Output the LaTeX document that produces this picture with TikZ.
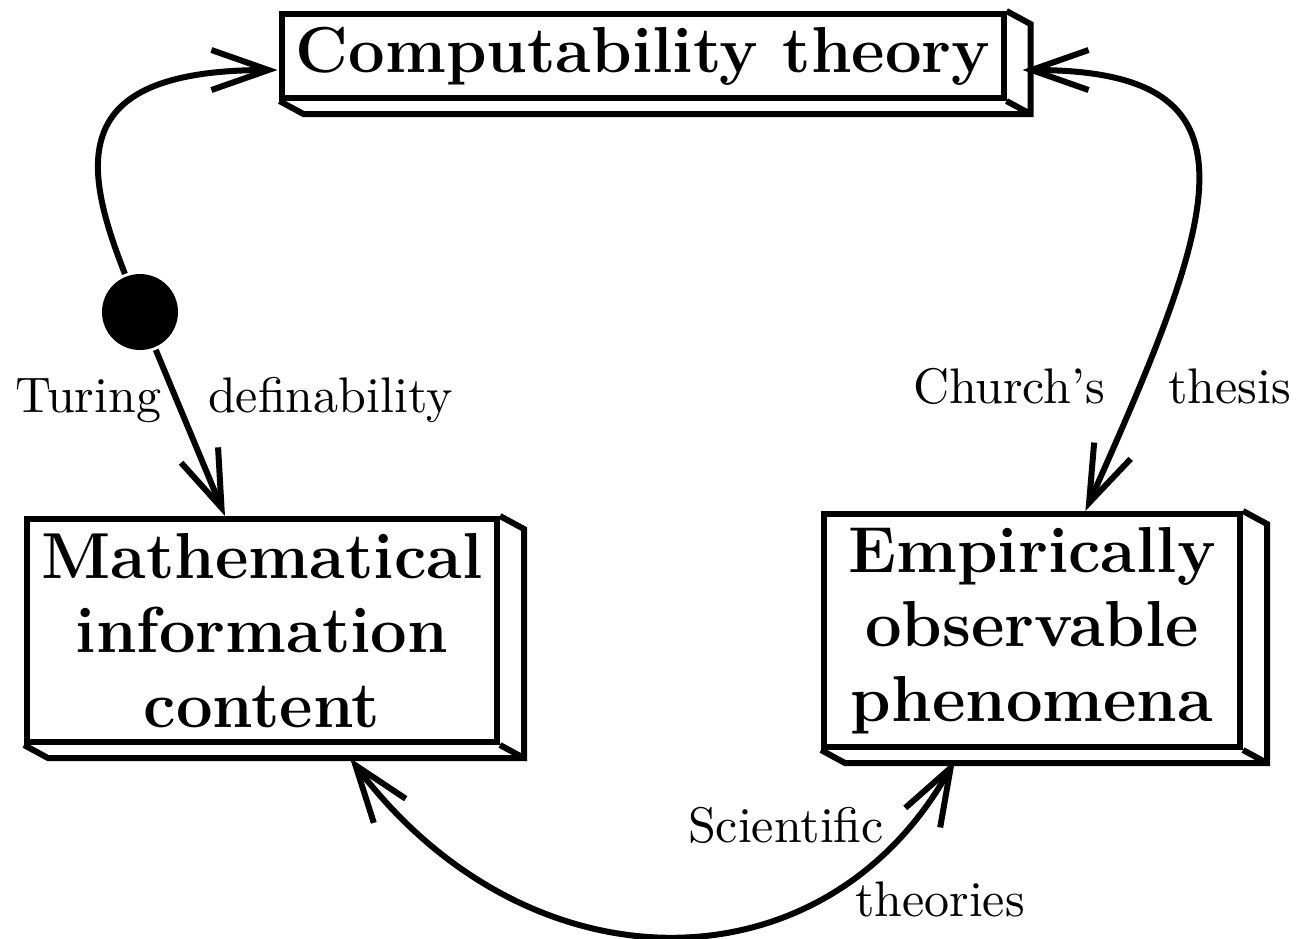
\documentclass[tikz,border=0pt]{standalone}
\usetikzlibrary{arrows.meta}

\begin{document}
\begin{tikzpicture}[x=0.2pt,y=0.2pt,line width=1.2pt,
    >={Straight Barb[length=11.4pt,width=8pt]},
    box/.style={draw,line width=1.2pt,inner sep=0pt,align=center,
      font=\fontsize{13}{14.9}\selectfont\bfseries},
    lbl/.style={inner sep=0pt,anchor=base west}]

  \useasboundingbox (0,0) rectangle (1305,-938);

  \node[box,minimum width=144.2pt,minimum height=16.8pt] (ct) at (643,-56) {Computability theory};
  \node[box,minimum width=94pt,minimum height=44.6pt] (mi) at (262,-630.5) {Mathematical\\information\\content};
  \node[box,minimum width=83.2pt,minimum height=46.6pt] (ep) at (1032,-630.5) {Empirically\\observable\\phenomena};
  \node[circle,fill,inner sep=0pt,minimum size=15.2pt] (dot) at (140,-312) {};

  % 3d edges of the boxes
  \foreach \b in {ct,mi,ep}
    \draw (\b.north east) -- ++(24,-13) |- ([shift={(24,-13)}]\b.south west) -- (\b.south west)
          (\b.south east) -- ++(24,-13);

  \draw[->] (dot) .. controls (80,-160) and (70,-70) .. ([shift={(-2,-14)}]ct.west);
  \draw[->] (dot) -- ([shift={(-37,0)}]mi.north);
  \draw[<->] (ep) .. controls (1220,-210) and (1270,-70) .. ([shift={(16,-14)}]ct.east);
  \draw[<->] ([shift={(88,-13)}]mi.south) .. controls (528,-994) and (824,-994) .. ([shift={(-77,-10)}]ep.south);

  \node[lbl] (turing) at (12,-412) {Turing};
  \node[lbl] (defin) at (205,-412) {definability};
  \node[lbl] (church) at (910,-403) {Church's};
  \node[lbl] (thesis) at (1165,-403) {thesis};
  \node[lbl] (scient) at (685,-842) {Scientific};
  \node[lbl] (theor) at (852,-916) {theories};
\end{tikzpicture}
\end{document}
